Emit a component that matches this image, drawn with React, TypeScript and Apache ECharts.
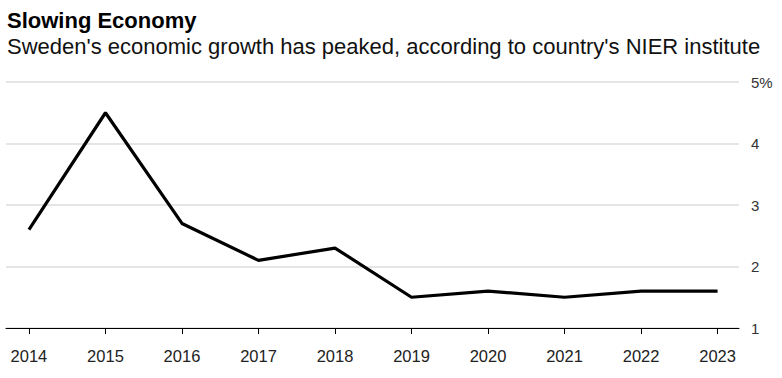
import React, { useEffect, useRef } from "react";
import * as echarts from "echarts";

const years = [2014, 2015, 2016, 2017, 2018, 2019, 2020, 2021, 2022, 2023];
const growth = [2.6, 4.5, 2.7, 2.1, 2.3, 1.5, 1.6, 1.5, 1.6, 1.6];
const yTicks = [1, 2, 3, 4, 5];

const FONT = "'Liberation Sans', Arial, Helvetica, sans-serif";

export default function App() {
  const ref = useRef<HTMLDivElement>(null);
  useEffect(() => {
    if (!ref.current) return;
    const chart = echarts.init(ref.current, null, { renderer: "svg" });
    chart.setOption({
      animation: false,
      backgroundColor: "#ffffff",
      textStyle: { fontFamily: FONT },
      title: {
        text: "Slowing Economy",
        subtext: "Sweden's economic growth has peaked, according to country's NIER institute",
        left: 2,
        top: 4,
        itemGap: 4,
        textStyle: { fontFamily: FONT, fontSize: 22, fontWeight: "bold", color: "#000" },
        subtextStyle: { fontFamily: FONT, fontSize: 22, color: "#111" },
      },
      grid: { left: 6, right: 43, top: 82, bottom: 50, containLabel: false },
      xAxis: {
        type: "value",
        min: 2013.7,
        max: 2023.28,
        splitLine: { show: false },
        axisLine: { show: true, lineStyle: { color: "#000", width: 1 } },
        axisTick: {
          show: true,
          length: 6,
          lineStyle: { color: "#000", width: 1 },
          customValues: years,
        },
        axisLabel: {
          customValues: years,
          color: "#222",
          fontSize: 16.5,
          fontFamily: FONT,
          margin: 19,
          formatter: (v: number) => String(v),
        },
      },
      yAxis: {
        type: "value",
        position: "right",
        min: 1,
        max: 5,
        interval: 1,
        axisLine: { show: false },
        axisTick: { show: false },
        splitLine: { show: true, lineStyle: { color: "#dcdcdc", width: 1.5 } },
        axisLabel: {
          color: "#333",
          fontSize: 15,
          fontFamily: FONT,
          margin: 12,
          align: "left",
          customValues: yTicks,
          formatter: (v: number) => (v === 5 ? "5%" : String(v)),
        },
      },
      series: [
        {
          type: "line",
          data: years.map((y, i) => [y, growth[i]]),
          symbol: "none",
          lineStyle: { color: "#000", width: 3.2 },
          z: 5,
        },
      ],
    });
    return () => chart.dispose();
  }, []);
  return (
    <div
      ref={ref}
      style={{ position: "fixed", left: 0, top: 0, width: 782, height: 378 }}
    />
  );
}
